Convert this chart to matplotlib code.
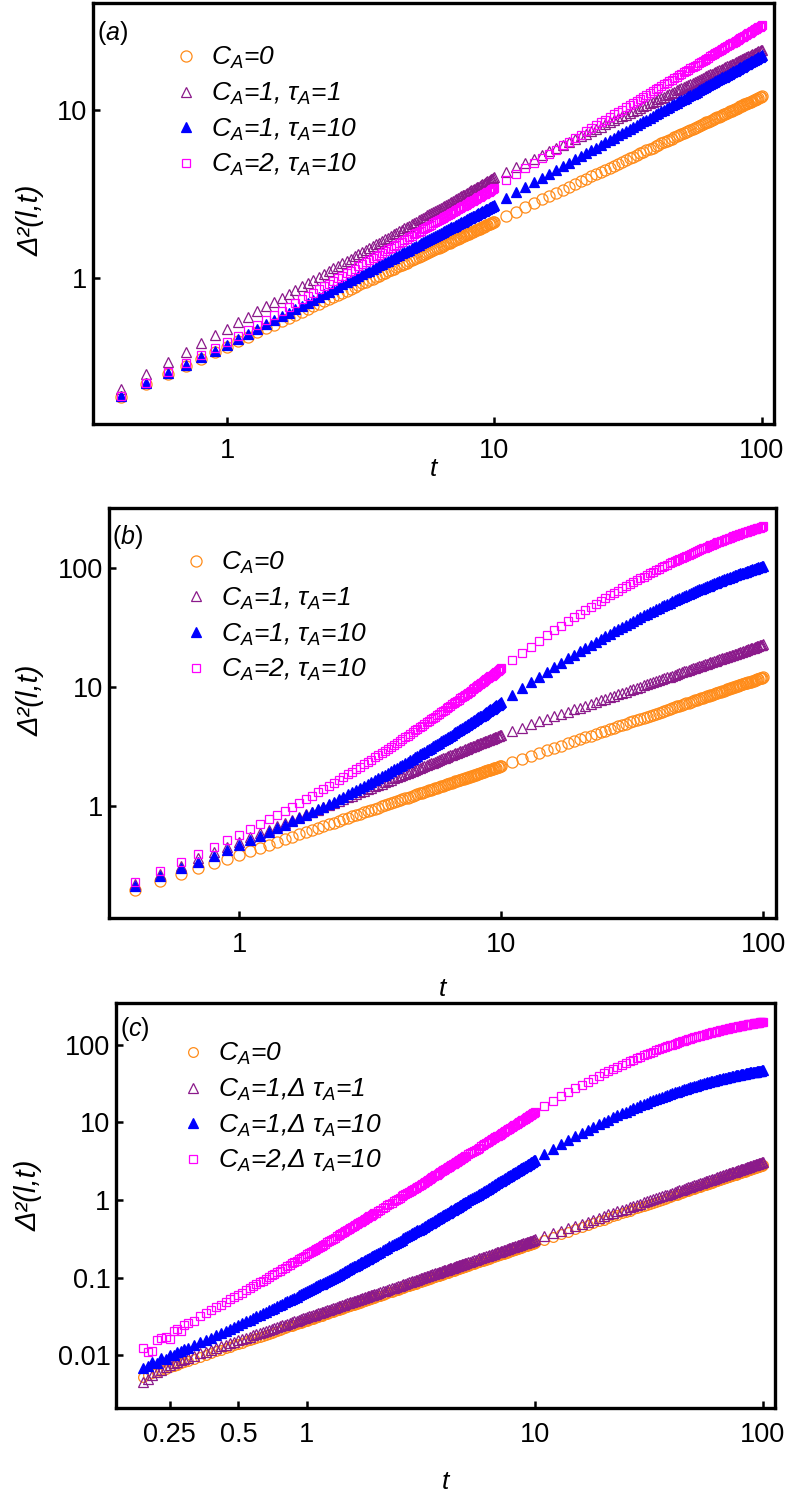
import matplotlib.pyplot as plt
from matplotlib.ticker import NullLocator

plt.rcParams['font.family'] = ['Liberation Sans', 'DejaVu Sans']
plt.rcParams['mathtext.fontset'] = 'custom'
plt.rcParams['mathtext.rm'] = 'Liberation Sans'
plt.rcParams['mathtext.it'] = 'Liberation Sans:italic'
plt.rcParams['mathtext.bf'] = 'Liberation Sans:bold'

# ---- time grid of panels (a) and (b) ----
t_fine = [0.4, 0.5, 0.6, 0.7, 0.8, 0.9, 1.0,
          1.1, 1.2, 1.3, 1.4, 1.5, 1.6, 1.7, 1.8, 1.9, 2.0,
          2.1, 2.2, 2.3, 2.4, 2.5, 2.6, 2.7, 2.8, 2.9, 3.0,
          3.1, 3.2, 3.3, 3.4, 3.5, 3.6, 3.7, 3.8, 3.9, 4.0,
          4.1, 4.2, 4.3, 4.4, 4.5, 4.6, 4.7, 4.8, 4.9, 5.0,
          5.1, 5.2, 5.3, 5.4, 5.5, 5.6, 5.7, 5.8, 5.9, 6.0,
          6.1, 6.2, 6.3, 6.4, 6.5, 6.6, 6.7, 6.8, 6.9, 7.0,
          7.1, 7.2, 7.3, 7.4, 7.5, 7.6, 7.7, 7.8, 7.9, 8.0,
          8.1, 8.2, 8.3, 8.4, 8.5, 8.6, 8.7, 8.8, 8.9, 9.0,
          9.1, 9.2, 9.3, 9.4, 9.5, 9.6, 9.7, 9.8, 9.9, 10.0]
t_coarse = [11, 12, 13, 14, 15, 16, 17, 18, 19, 20,
            21, 22, 23, 24, 25, 26, 27, 28, 29, 30,
            31, 32, 33, 34, 35, 36, 37, 38, 39, 40,
            41, 42, 43, 44, 45, 46, 47, 48, 49, 50,
            51, 52, 53, 54, 55, 56, 57, 58, 59, 60,
            61, 62, 63, 64, 65, 66, 67, 68, 69, 70,
            71, 72, 73, 74, 75, 76, 77, 78, 79, 80,
            81, 82, 83, 84, 85, 86, 87, 88, 89, 90,
            91, 92, 93, 94, 95, 96, 97, 98, 99, 100]

# C_A=0 (same in a and b)
ca0_fine = [0.197, 0.233, 0.267, 0.299, 0.330, 0.361, 0.390,
            0.419, 0.447, 0.474, 0.501, 0.528, 0.553, 0.579, 0.604, 0.629, 0.653,
            0.678, 0.702, 0.725, 0.749, 0.772, 0.795, 0.817, 0.840, 0.862, 0.884,
            0.906, 0.928, 0.949, 0.970, 0.992, 1.013, 1.034, 1.054, 1.075, 1.095,
            1.116, 1.136, 1.156, 1.176, 1.196, 1.216, 1.235, 1.254, 1.274, 1.294,
            1.313, 1.331, 1.351, 1.370, 1.388, 1.407, 1.426, 1.444, 1.463, 1.482,
            1.500, 1.518, 1.537, 1.555, 1.573, 1.591, 1.609, 1.626, 1.644, 1.662,
            1.680, 1.697, 1.715, 1.732, 1.750, 1.767, 1.784, 1.801, 1.818, 1.836,
            1.853, 1.870, 1.886, 1.903, 1.920, 1.937, 1.954, 1.971, 1.987, 2.004,
            2.021, 2.037, 2.054, 2.070, 2.086, 2.103, 2.119, 2.135, 2.151, 2.168]
ca0_coarse = [2.33, 2.48, 2.64, 2.79, 2.94, 3.07, 3.22, 3.36, 3.50, 3.63,
              3.77, 3.90, 4.03, 4.16, 4.29, 4.42, 4.54, 4.67, 4.79, 4.91,
              5.04, 5.16, 5.28, 5.39, 5.51, 5.63, 5.75, 5.86, 5.98, 6.09,
              6.20, 6.32, 6.43, 6.54, 6.65, 6.76, 6.87, 6.97, 7.08, 7.19,
              7.30, 7.40, 7.51, 7.62, 7.72, 7.82, 7.93, 8.03, 8.13, 8.24,
              8.34, 8.44, 8.54, 8.64, 8.74, 8.84, 8.94, 9.04, 9.14, 9.24,
              9.34, 9.43, 9.53, 9.63, 9.73, 9.82, 9.92, 10.0, 10.1, 10.2,
              10.3, 10.4, 10.5, 10.6, 10.7, 10.8, 10.9, 11.0, 11.0, 11.1,
              11.2, 11.3, 11.4, 11.5, 11.6, 11.7, 11.8, 11.9, 12.0, 12.05]

# C_A=1, tau_A=1 (same in a and b)
tau1_fine = [0.219, 0.268, 0.316, 0.363, 0.409, 0.455, 0.500,
             0.545, 0.589, 0.633, 0.677, 0.720, 0.763, 0.806, 0.849, 0.891, 0.933,
             0.975, 1.017, 1.058, 1.100, 1.141, 1.182, 1.223, 1.263, 1.304, 1.344,
             1.384, 1.424, 1.465, 1.504, 1.544, 1.584, 1.623, 1.663, 1.702, 1.741,
             1.780, 1.819, 1.859, 1.898, 1.936, 1.975, 2.013, 2.051, 2.090, 2.128,
             2.166, 2.204, 2.243, 2.281, 2.319, 2.357, 2.395, 2.433, 2.471, 2.508,
             2.546, 2.583, 2.620, 2.658, 2.695, 2.732, 2.770, 2.807, 2.843, 2.881,
             2.918, 2.955, 2.992, 3.029, 3.066, 3.102, 3.140, 3.176, 3.212, 3.250,
             3.286, 3.322, 3.359, 3.395, 3.431, 3.468, 3.504, 3.540, 3.576, 3.612,
             3.648, 3.684, 3.721, 3.756, 3.791, 3.828, 3.864, 3.899, 3.936, 3.972]
tau1_coarse = [4.27, 4.56, 4.85, 5.13, 5.40, 5.67, 5.94, 6.21, 6.47, 6.72,
               6.98, 7.23, 7.48, 7.72, 7.96, 8.21, 8.45, 8.68, 8.92, 9.15,
               9.38, 9.61, 9.84, 10.06, 10.29, 10.51, 10.73, 10.95, 11.17, 11.39,
               11.60, 11.81, 12.03, 12.24, 12.45, 12.66, 12.87, 13.08, 13.29, 13.49,
               13.70, 13.90, 14.10, 14.30, 14.51, 14.70, 14.90, 15.10, 15.30, 15.49,
               15.69, 15.88, 16.08, 16.27, 16.46, 16.66, 16.85, 17.04, 17.23, 17.42,
               17.61, 17.80, 17.98, 18.17, 18.36, 18.54, 18.73, 18.91, 19.10, 19.28,
               19.47, 19.65, 19.83, 20.01, 20.19, 20.37, 20.55, 20.73, 20.91, 21.09,
               21.26, 21.44, 21.62, 21.80, 21.97, 22.14, 22.32, 22.49, 22.67, 22.85]

# panel (a): C_A=1, tau_A=10 and C_A=2, tau_A=10
a_tau10_fine = [0.198, 0.236, 0.271, 0.305, 0.338, 0.369, 0.400,
                0.433, 0.466, 0.498, 0.529, 0.561, 0.592, 0.622, 0.653, 0.683, 0.712,
                0.742, 0.771, 0.800, 0.829, 0.858, 0.887, 0.915, 0.943, 0.971, 0.999,
                1.026, 1.054, 1.081, 1.108, 1.135, 1.163, 1.190, 1.216, 1.243, 1.269,
                1.296, 1.322, 1.348, 1.374, 1.400, 1.426, 1.452, 1.477, 1.503, 1.529,
                1.554, 1.579, 1.605, 1.630, 1.655, 1.680, 1.705, 1.729, 1.755, 1.779,
                1.804, 1.829, 1.853, 1.878, 1.902, 1.926, 1.950, 1.975, 1.999, 2.023,
                2.047, 2.071, 2.095, 2.118, 2.143, 2.166, 2.190, 2.214, 2.237, 2.261,
                2.285, 2.308, 2.331, 2.355, 2.378, 2.401, 2.424, 2.448, 2.471, 2.493,
                2.516, 2.540, 2.563, 2.585, 2.608, 2.632, 2.655, 2.677, 2.700, 2.723]
a_tau10_coarse = [3.00, 3.24, 3.48, 3.71, 3.95, 4.18, 4.41, 4.64, 4.87, 5.09,
                  5.32, 5.54, 5.76, 5.98, 6.20, 6.42, 6.64, 6.86, 7.07, 7.29,
                  7.51, 7.72, 7.93, 8.15, 8.36, 8.57, 8.78, 8.99, 9.20, 9.41,
                  9.61, 9.82, 10.03, 10.23, 10.44, 10.64, 10.85, 11.05, 11.25, 11.46,
                  11.66, 11.86, 12.06, 12.26, 12.47, 12.67, 12.87, 13.07, 13.27, 13.47,
                  13.66, 13.86, 14.06, 14.26, 14.45, 14.65, 14.85, 15.04, 15.24, 15.43,
                  15.63, 15.82, 16.02, 16.21, 16.41, 16.60, 16.80, 16.98, 17.18, 17.37,
                  17.56, 17.75, 17.95, 18.14, 18.32, 18.51, 18.71, 18.90, 19.09, 19.28,
                  19.47, 19.66, 19.85, 20.03, 20.22, 20.41, 20.60, 20.78, 20.97, 21.16]
a_ca2_fine = [0.199, 0.238, 0.276, 0.312, 0.347, 0.382, 0.415,
              0.453, 0.491, 0.528, 0.565, 0.602, 0.639, 0.675, 0.712, 0.748, 0.783,
              0.819, 0.855, 0.891, 0.926, 0.961, 0.997, 1.032, 1.067, 1.102, 1.136,
              1.171, 1.206, 1.240, 1.275, 1.309, 1.343, 1.377, 1.411, 1.445, 1.480,
              1.513, 1.547, 1.581, 1.615, 1.648, 1.682, 1.715, 1.748, 1.782, 1.816,
              1.849, 1.882, 1.915, 1.948, 1.981, 2.014, 2.047, 2.080, 2.113, 2.146,
              2.178, 2.211, 2.244, 2.277, 2.309, 2.342, 2.374, 2.407, 2.439, 2.472,
              2.504, 2.536, 2.568, 2.601, 2.633, 2.665, 2.697, 2.730, 2.761, 2.793,
              2.825, 2.858, 2.889, 2.921, 2.953, 2.985, 3.017, 3.049, 3.080, 3.112,
              3.143, 3.175, 3.207, 3.238, 3.270, 3.302, 3.333, 3.364, 3.396, 3.428]
a_ca2_coarse = [3.83, 4.16, 4.50, 4.83, 5.16, 5.49, 5.82, 6.15, 6.48, 6.81,
                7.14, 7.46, 7.79, 8.12, 8.44, 8.76, 9.09, 9.41, 9.73, 10.06,
                10.38, 10.70, 11.02, 11.34, 11.66, 11.98, 12.30, 12.62, 12.94, 13.26,
                13.58, 13.90, 14.22, 14.54, 14.85, 15.17, 15.49, 15.80, 16.12, 16.44,
                16.75, 17.07, 17.39, 17.70, 18.02, 18.33, 18.65, 18.96, 19.28, 19.59,
                19.90, 20.22, 20.53, 20.84, 21.15, 21.47, 21.78, 22.10, 22.40, 22.72,
                23.03, 23.34, 23.65, 23.96, 24.28, 24.59, 24.90, 25.21, 25.52, 25.83,
                26.15, 26.46, 26.77, 27.08, 27.38, 27.70, 28.01, 28.31, 28.62, 28.93,
                29.24, 29.55, 29.86, 30.17, 30.47, 30.79, 31.09, 31.40, 31.70, 32.01]

# panel (b): C_A=1, tau_A=10 and C_A=2, tau_A=10
b_tau10_fine = [0.212, 0.256, 0.299, 0.341, 0.383, 0.427, 0.470,
                0.514, 0.559, 0.603, 0.649, 0.695, 0.741, 0.789, 0.837, 0.886, 0.935,
                0.987, 1.038, 1.089, 1.143, 1.196, 1.250, 1.305, 1.361, 1.418, 1.475,
                1.533, 1.593, 1.651, 1.712, 1.774, 1.836, 1.900, 1.963, 2.028, 2.093,
                2.159, 2.226, 2.294, 2.363, 2.432, 2.502, 2.573, 2.644, 2.717, 2.792,
                2.865, 2.939, 3.016, 3.092, 3.169, 3.247, 3.326, 3.405, 3.486, 3.568,
                3.650, 3.733, 3.817, 3.902, 3.987, 4.072, 4.159, 4.246, 4.334, 4.424,
                4.514, 4.603, 4.696, 4.786, 4.881, 4.974, 5.069, 5.164, 5.260, 5.358,
                5.455, 5.553, 5.652, 5.752, 5.852, 5.954, 6.056, 6.160, 6.262, 6.366,
                6.472, 6.579, 6.686, 6.792, 6.900, 7.011, 7.121, 7.229, 7.340, 7.454]
b_tau10_coarse = [8.59, 9.76, 10.97, 12.21, 13.48, 14.74, 16.04, 17.36, 18.68, 20.01,
                  21.35, 22.68, 24.02, 25.37, 26.71, 28.06, 29.40, 30.74, 32.06, 33.38,
                  34.71, 36.02, 37.33, 38.62, 39.91, 41.20, 42.49, 43.75, 45.01, 46.26,
                  47.48, 48.72, 49.94, 51.15, 52.35, 53.54, 54.72, 55.88, 57.05, 58.21,
                  59.35, 60.46, 61.58, 62.69, 63.80, 64.91, 65.96, 67.01, 68.07, 69.18,
                  70.18, 71.22, 72.22, 73.27, 74.22, 75.22, 76.23, 77.16, 78.11, 79.11,
                  80.06, 80.94, 81.89, 82.84, 83.78, 84.66, 85.56, 86.43, 87.27, 88.16,
                  89.05, 89.90, 90.73, 91.58, 92.41, 93.26, 94.04, 94.88, 95.57, 96.36,
                  97.14, 97.93, 98.72, 99.45, 100.2, 101.0, 101.8, 102.5, 103.2, 103.9]
b_ca2_fine = [0.232, 0.285, 0.340, 0.395, 0.453, 0.513, 0.574,
              0.638, 0.704, 0.771, 0.841, 0.913, 0.986, 1.062, 1.140, 1.221, 1.303,
              1.388, 1.475, 1.563, 1.654, 1.747, 1.842, 1.939, 2.039, 2.140, 2.243,
              2.349, 2.457, 2.565, 2.678, 2.792, 2.906, 3.025, 3.144, 3.266, 3.390,
              3.515, 3.642, 3.773, 3.907, 4.039, 4.175, 4.312, 4.450, 4.593, 4.739,
              4.883, 5.029, 5.180, 5.332, 5.484, 5.639, 5.796, 5.954, 6.116, 6.281,
              6.444, 6.613, 6.781, 6.954, 7.124, 7.297, 7.475, 7.652, 7.830, 8.014,
              8.199, 8.382, 8.571, 8.757, 8.952, 9.144, 9.339, 9.536, 9.734, 9.936,
              10.14, 10.34, 10.55, 10.76, 10.96, 11.18, 11.39, 11.61, 11.82, 12.04,
              12.26, 12.48, 12.71, 12.93, 13.16, 13.39, 13.62, 13.85, 14.09, 14.33]
b_ca2_coarse = [16.72, 19.22, 21.79, 24.45, 27.17, 29.92, 32.72, 35.56, 38.42, 41.29,
                44.19, 47.08, 50.01, 52.94, 55.85, 58.79, 61.71, 64.64, 67.52, 70.40,
                73.29, 76.13, 78.99, 81.82, 84.63, 87.44, 90.24, 93.00, 95.75, 98.48,
                101.1, 103.8, 106.5, 109.1, 111.8, 114.4, 116.9, 119.5, 122.0, 124.5,
                127.0, 129.4, 131.9, 134.3, 136.7, 139.1, 141.4, 143.7, 146.0, 148.4,
                150.5, 152.8, 155.0, 157.3, 159.3, 161.5, 163.7, 165.7, 167.7, 169.9,
                172.0, 173.9, 175.9, 178.0, 180.0, 181.9, 183.9, 185.8, 187.6, 189.5,
                191.4, 193.2, 195.0, 196.8, 198.6, 200.5, 202.1, 203.9, 205.5, 207.2,
                208.9, 210.6, 212.2, 213.8, 215.5, 217.0, 218.7, 220.3, 221.8, 223.4]

# ---- panel (c) ----
tc_fine = [0.19, 0.20, 0.21, 0.22, 0.23, 0.24, 0.25, 0.26, 0.27, 0.28, 0.29, 0.30,
           0.32, 0.34, 0.36, 0.38, 0.40, 0.42, 0.44, 0.46, 0.48, 0.50, 0.52, 0.54,
           0.56, 0.58, 0.60,
           0.64, 0.68, 0.72, 0.76, 0.80, 0.84, 0.88, 0.92, 0.96, 1.00, 1.04, 1.08,
           1.12, 1.16, 1.20,
           1.25, 1.30, 1.35, 1.40, 1.45, 1.50, 1.55, 1.60, 1.65, 1.70, 1.75, 1.80,
           1.85, 1.90, 1.95, 2.00, 2.05, 2.10, 2.15, 2.20, 2.25, 2.30, 2.35, 2.40,
           2.45, 2.50, 2.55, 2.60, 2.65, 2.70, 2.75, 2.80, 2.85, 2.90, 2.95, 3.00,
           3.1, 3.2, 3.3, 3.4, 3.5, 3.6, 3.7, 3.8, 3.9, 4.0,
           4.1, 4.2, 4.3, 4.4, 4.5, 4.6, 4.7, 4.8, 4.9, 5.0,
           5.1, 5.2, 5.3, 5.4, 5.5, 5.6, 5.7, 5.8, 5.9, 6.0,
           6.1, 6.2, 6.3, 6.4, 6.5, 6.6, 6.7, 6.8, 6.9, 7.0,
           7.1, 7.2, 7.3, 7.4, 7.5, 7.6, 7.7, 7.8, 7.9, 8.0,
           8.1, 8.2, 8.3, 8.4, 8.5, 8.6, 8.7, 8.8, 8.9, 9.0,
           9.1, 9.2, 9.3, 9.4, 9.5, 9.6, 9.7, 9.8, 9.9, 10.0]
# extra samples between the ones above, where the data are denser
tc_extra = [0.62, 0.66, 0.70, 0.74, 0.78, 0.82, 0.86, 0.90, 0.94, 0.98,
            1.02, 1.06, 1.10, 1.14, 1.18,
            1.225, 1.275, 1.325, 1.375, 1.425, 1.475, 1.525, 1.575,
            1.625, 1.675, 1.725, 1.775, 1.825, 1.875, 1.925, 1.975,
            3.05, 3.15, 3.25, 3.35, 3.45, 3.55, 3.65, 3.75, 3.85, 3.95,
            4.05, 4.15, 4.25, 4.35, 4.45, 4.55, 4.65, 4.75, 4.85, 4.95]
tc_coarse = t_coarse

c_ca0_fine = [0.00532, 0.0056, 0.00588, 0.00616, 0.00644, 0.00672, 0.0070, 0.00728,
              0.00756, 0.00784, 0.00812, 0.0084,
              0.00896, 0.00952, 0.01008, 0.01064, 0.0112, 0.01176, 0.01232, 0.01288,
              0.01344, 0.0140, 0.01456, 0.01512, 0.01568, 0.01624, 0.0168,
              0.01792, 0.01904, 0.02016, 0.02128, 0.0224, 0.02352, 0.02464, 0.02576,
              0.02688, 0.028, 0.02912, 0.03024, 0.03136, 0.03248, 0.0336,
              0.035, 0.0364, 0.0378, 0.0392, 0.0406, 0.042, 0.0434, 0.0448, 0.0462,
              0.0476, 0.049, 0.0504, 0.0518, 0.0532, 0.0546, 0.056, 0.0574, 0.0588,
              0.0602, 0.0616, 0.063, 0.0644, 0.0658, 0.0672, 0.0686, 0.07, 0.0714,
              0.0728, 0.0742, 0.0756, 0.077, 0.0784, 0.0798, 0.0812, 0.0826, 0.084,
              0.0868, 0.0896, 0.0924, 0.0952, 0.098, 0.1008, 0.1036, 0.1064, 0.1092, 0.112,
              0.1148, 0.1176, 0.1204, 0.1232, 0.126, 0.1288, 0.1316, 0.1344, 0.1372, 0.14,
              0.1428, 0.1456, 0.1484, 0.1512, 0.154, 0.1568, 0.1596, 0.1624, 0.1652, 0.168,
              0.1708, 0.1736, 0.1764, 0.1792, 0.182, 0.1848, 0.1876, 0.1904, 0.1932, 0.196,
              0.1988, 0.2016, 0.2044, 0.2072, 0.21, 0.2128, 0.2156, 0.2184, 0.2212, 0.224,
              0.2268, 0.2296, 0.2324, 0.2352, 0.238, 0.2408, 0.2436, 0.2464, 0.2492, 0.252,
              0.2548, 0.2576, 0.2604, 0.2632, 0.266, 0.2688, 0.2716, 0.2744, 0.2772, 0.28]
c_ca0_extra = [0.01736, 0.01848, 0.0196, 0.02072, 0.02184, 0.02296, 0.02408, 0.0252,
               0.02632, 0.02744, 0.02856, 0.02968, 0.0308, 0.03192, 0.03304,
               0.0343, 0.0357, 0.0371, 0.0385, 0.0399, 0.0413, 0.0427, 0.0441,
               0.0455, 0.0469, 0.0483, 0.0497, 0.0511, 0.0525, 0.0539, 0.0553,
               0.0854, 0.0882, 0.091, 0.0938, 0.0966, 0.0994, 0.1022, 0.105, 0.1078, 0.1106,
               0.1134, 0.1162, 0.119, 0.1218, 0.1246, 0.1274, 0.1302, 0.133, 0.1358, 0.1386]
c_ca0_coarse = [0.308, 0.336, 0.364, 0.392, 0.42, 0.448, 0.476, 0.504, 0.532, 0.56,
                0.588, 0.616, 0.644, 0.672, 0.70, 0.728, 0.756, 0.784, 0.812, 0.84,
                0.868, 0.896, 0.924, 0.952, 0.98, 1.008, 1.036, 1.064, 1.092, 1.12,
                1.148, 1.176, 1.204, 1.232, 1.26, 1.288, 1.316, 1.344, 1.372, 1.40,
                1.428, 1.456, 1.484, 1.512, 1.54, 1.568, 1.596, 1.624, 1.652, 1.68,
                1.708, 1.736, 1.764, 1.792, 1.82, 1.848, 1.876, 1.904, 1.932, 1.96,
                1.988, 2.016, 2.044, 2.072, 2.10, 2.128, 2.156, 2.184, 2.212, 2.24,
                2.268, 2.296, 2.324, 2.352, 2.38, 2.408, 2.436, 2.464, 2.492, 2.52,
                2.548, 2.576, 2.604, 2.632, 2.66, 2.688, 2.716, 2.744, 2.772, 2.80]

c_dtau1_fine = [0.0045, 0.0050, 0.0056, 0.0060, 0.0065, 0.0070, 0.0074, 0.0079,
                0.0083, 0.0086, 0.0090, 0.0093,
                0.00992, 0.01054, 0.01116, 0.01178, 0.0124, 0.01302, 0.01364, 0.01426,
                0.01488, 0.0155, 0.01612, 0.01674, 0.01736, 0.01798, 0.0186,
                0.01984, 0.02108, 0.02232, 0.02356, 0.0248, 0.02604, 0.02728, 0.02852,
                0.02976, 0.031, 0.03224, 0.03348, 0.03472, 0.03596, 0.0372,
                0.03875, 0.0403, 0.04185, 0.0434, 0.04495, 0.0465, 0.04805, 0.0496,
                0.05115, 0.0527, 0.05425, 0.0558, 0.05735, 0.0589, 0.06045, 0.062,
                0.06355, 0.0651, 0.06665, 0.0682, 0.06975, 0.0713, 0.07285, 0.0744,
                0.07595, 0.0775, 0.07905, 0.0806, 0.08215, 0.0837, 0.08525, 0.0868,
                0.08835, 0.0899, 0.09145, 0.093,
                0.0961, 0.0992, 0.1023, 0.1054, 0.1085, 0.1116, 0.1147, 0.1178, 0.1209, 0.124,
                0.1271, 0.1302, 0.1333, 0.1364, 0.1395, 0.1426, 0.1457, 0.1488, 0.1519, 0.155,
                0.1581, 0.1612, 0.1643, 0.1674, 0.1705, 0.1736, 0.1767, 0.1798, 0.1829, 0.186,
                0.1891, 0.1922, 0.1953, 0.1984, 0.2015, 0.2046, 0.2077, 0.2108, 0.2139, 0.217,
                0.2201, 0.2232, 0.2263, 0.2294, 0.2325, 0.2356, 0.2387, 0.2418, 0.2449, 0.248,
                0.2511, 0.2542, 0.2573, 0.2604, 0.2635, 0.2666, 0.2697, 0.2728, 0.2759, 0.279,
                0.2821, 0.2852, 0.2883, 0.2914, 0.2945, 0.2976, 0.3007, 0.3038, 0.3069, 0.31]
c_dtau1_extra = [0.01922, 0.02046, 0.0217, 0.02294, 0.02418, 0.02542, 0.02666, 0.0279,
                 0.02914, 0.03038, 0.03162, 0.03286, 0.0341, 0.03534, 0.03658,
                 0.03798, 0.03953, 0.04108, 0.04263, 0.04418, 0.04573, 0.04728, 0.04883,
                 0.05038, 0.05193, 0.05348, 0.05503, 0.05658, 0.05813, 0.05968, 0.06123,
                 0.09455, 0.09765, 0.10075, 0.10385, 0.10695, 0.11005, 0.11315, 0.11625,
                 0.11935, 0.12245, 0.12555, 0.12865, 0.13175, 0.13485, 0.13795, 0.14105,
                 0.14415, 0.14725, 0.15035, 0.15345]
c_dtau1_coarse = [0.341, 0.372, 0.403, 0.434, 0.465, 0.496, 0.527, 0.558, 0.589, 0.62,
                  0.651, 0.682, 0.713, 0.744, 0.775, 0.806, 0.837, 0.868, 0.899, 0.93,
                  0.961, 0.992, 1.023, 1.054, 1.085, 1.116, 1.147, 1.178, 1.209, 1.24,
                  1.271, 1.302, 1.333, 1.364, 1.395, 1.426, 1.457, 1.488, 1.519, 1.55,
                  1.581, 1.612, 1.643, 1.674, 1.705, 1.736, 1.767, 1.798, 1.829, 1.86,
                  1.891, 1.922, 1.953, 1.984, 2.015, 2.046, 2.077, 2.108, 2.139, 2.17,
                  2.201, 2.232, 2.263, 2.294, 2.325, 2.356, 2.387, 2.418, 2.449, 2.48,
                  2.511, 2.542, 2.573, 2.604, 2.635, 2.666, 2.697, 2.728, 2.759, 2.79,
                  2.821, 2.852, 2.883, 2.914, 2.945, 2.976, 3.007, 3.038, 3.069, 3.1]

c_dtau10_fine = [0.0068, 0.0072, 0.0083, 0.0080, 0.0092, 0.0090, 0.0101, 0.0100,
                 0.0110, 0.0112, 0.0120, 0.0124,
                 0.0135, 0.0146, 0.0157, 0.0169, 0.0181, 0.0193, 0.0206, 0.0219,
                 0.0232, 0.0245, 0.0259, 0.0273, 0.0287, 0.0301, 0.0316,
                 0.0347, 0.0378, 0.0411, 0.0444, 0.0479, 0.0515, 0.0552, 0.0590,
                 0.0629, 0.0669, 0.0710, 0.0753, 0.0796, 0.0840, 0.0885,
                 0.0943, 0.1003, 0.1064, 0.1126, 0.1191, 0.1257, 0.1324, 0.1394,
                 0.1464, 0.1536, 0.1610, 0.1686, 0.1762, 0.1841, 0.1920, 0.2002,
                 0.2085, 0.2169, 0.2255, 0.2342, 0.2432, 0.2521, 0.2614, 0.2707,
                 0.2802, 0.2898, 0.2996, 0.3096, 0.3195, 0.3298, 0.3401, 0.3507,
                 0.3613, 0.3721, 0.3831, 0.3942,
                 0.4169, 0.4400, 0.4639, 0.4881, 0.5131, 0.5388, 0.5650, 0.5915, 0.6188, 0.6465,
                 0.6746, 0.7034, 0.7331, 0.7631, 0.7935, 0.8247, 0.8563, 0.8887, 0.9214, 0.9550,
                 0.9889, 1.0232, 1.0583, 1.0938, 1.1296, 1.1663, 1.2037, 1.2407, 1.2793, 1.3183,
                 1.3573, 1.3970, 1.4371, 1.4785, 1.5198, 1.5615, 1.6043, 1.6472, 1.6905, 1.7349,
                 1.7797, 1.8245, 1.8701, 1.9165, 1.9632, 2.0104, 2.0583, 2.1066, 2.1553, 2.2048,
                 2.2547, 2.3045, 2.3560, 2.4074, 2.4592, 2.5118, 2.5648, 2.6185, 2.6727, 2.7260,
                 2.7810, 2.8371, 2.8932, 2.9492, 3.0065, 3.0642, 3.1230, 3.1806, 3.2398, 3.2994]
c_dtau10_extra = [0.0331, 0.0362, 0.0394, 0.0427, 0.0462, 0.0497, 0.0533, 0.0571,
                  0.0609, 0.0649, 0.0689, 0.0731, 0.0774, 0.0818, 0.0862,
                  0.0914, 0.0972, 0.1033, 0.1095, 0.1159, 0.1224, 0.1291, 0.1359,
                  0.1429, 0.1500, 0.1573, 0.1648, 0.1724, 0.1801, 0.1880, 0.1961,
                  0.4054, 0.4283, 0.4520, 0.4760, 0.5004, 0.5257, 0.5515, 0.5780, 0.6049, 0.6326,
                  0.6607, 0.6888, 0.7184, 0.7481, 0.7785, 0.8089, 0.8405, 0.8725, 0.9049, 0.9380]
c_dtau10_coarse = [3.91, 4.55, 5.21, 5.90, 6.59, 7.29, 8.01, 8.73, 9.45, 10.18,
                   10.90, 11.63, 12.36, 13.08, 13.80, 14.51, 15.22, 15.92, 16.62, 17.31,
                   18.00, 18.67, 19.33, 19.99, 20.64, 21.28, 21.92, 22.54, 23.16, 23.77,
                   24.36, 24.96, 25.54, 26.12, 26.67, 27.23, 27.78, 28.32, 28.85, 29.38,
                   29.89, 30.40, 30.90, 31.38, 31.86, 32.33, 32.80, 33.25, 33.71, 34.16,
                   34.59, 35.02, 35.45, 35.86, 36.27, 36.67, 37.07, 37.46, 37.83, 38.21,
                   38.59, 38.94, 39.30, 39.64, 39.99, 40.33, 40.66, 40.99, 41.32, 41.63,
                   41.95, 42.25, 42.55, 42.84, 43.13, 43.42, 43.70, 43.98, 44.25, 44.51,
                   44.77, 45.04, 45.28, 45.53, 45.78, 46.03, 46.26, 46.49, 46.72, 46.94]

c_ca2_fine = [0.0125, 0.0109, 0.0112, 0.0158, 0.0166, 0.0172, 0.0160, 0.0205,
              0.0216, 0.0208, 0.0242, 0.0262,
              0.0280, 0.0322, 0.0349, 0.0381, 0.0415, 0.0449, 0.0486, 0.0523,
              0.0561, 0.0601, 0.0642, 0.0685, 0.0728, 0.0773, 0.0819,
              0.0915, 0.1016, 0.1121, 0.1231, 0.1346, 0.1465, 0.1589, 0.1719,
              0.1852, 0.199, 0.2133, 0.2281, 0.2432, 0.2589, 0.2751,
              0.2956, 0.3172, 0.3393, 0.3620, 0.3857, 0.4098, 0.4348, 0.4605,
              0.4869, 0.5137, 0.5413, 0.5699, 0.5988, 0.6286, 0.6587, 0.6899,
              0.7217, 0.7537, 0.7866, 0.8203, 0.8549, 0.8896, 0.9256, 0.9617,
              0.9988, 1.036, 1.074, 1.114, 1.153, 1.193, 1.234, 1.275,
              1.317, 1.360, 1.403, 1.448,
              1.538, 1.630, 1.725, 1.822, 1.923, 2.026, 2.132, 2.239, 2.349, 2.462,
              2.576, 2.693, 2.814, 2.936, 3.060, 3.188, 3.317, 3.450, 3.585, 3.723,
              3.862, 4.003, 4.148, 4.295, 4.443, 4.594, 4.749, 4.903, 5.063, 5.225,
              5.386, 5.552, 5.719, 5.891, 6.063, 6.237, 6.415, 6.594, 6.775, 6.961,
              7.148, 7.336, 7.527, 7.721, 7.917, 8.115, 8.316, 8.519, 8.723, 8.931,
              9.141, 9.351, 9.567, 9.784, 10.00, 10.22, 10.45, 10.67, 10.90, 11.13,
              11.36, 11.60, 11.83, 12.07, 12.31, 12.56, 12.81, 13.05, 13.30, 13.55]
c_ca2_extra = [0.0867, 0.0965, 0.1068, 0.1175, 0.1288, 0.1405, 0.1526, 0.1653,
               0.1784, 0.1920, 0.2061, 0.2205, 0.2355, 0.2510, 0.2668,
               0.2852, 0.3062, 0.3281, 0.3506, 0.3739, 0.3977, 0.4223, 0.4477,
               0.4737, 0.5002, 0.5276, 0.5555, 0.5843, 0.6136, 0.6435, 0.6743,
               1.492, 1.583, 1.678, 1.774, 1.872, 1.974, 2.077, 2.184, 2.293, 2.405,
               2.519, 2.633, 2.754, 2.875, 2.999, 3.123, 3.253, 3.384, 3.517, 3.653]
c_ca2_coarse = [16.16, 18.87, 21.69, 24.59, 27.56, 30.54, 33.58, 36.67, 39.74, 42.85,
                45.94, 49.04, 52.15, 55.22, 58.28, 61.33, 64.35, 67.34, 70.29, 73.22,
                76.16, 79.01, 81.84, 84.64, 87.40, 90.12, 92.81, 95.47, 98.10, 100.7,
                103.2, 105.7, 108.2, 110.6, 113.0, 115.3, 117.6, 119.9, 122.2, 124.4,
                126.6, 128.7, 130.8, 132.8, 134.8, 136.8, 138.8, 140.7, 142.6, 144.5,
                146.3, 148.1, 149.8, 151.6, 153.3, 154.9, 156.6, 158.2, 159.7, 161.3,
                162.9, 164.3, 165.8, 167.2, 168.7, 170.1, 171.4, 172.8, 174.1, 175.4,
                176.7, 177.9, 179.1, 180.3, 181.5, 182.7, 183.8, 185.0, 186.1, 187.1,
                188.2, 189.2, 190.2, 191.2, 192.2, 193.2, 194.1, 195.0, 196.0, 196.8]

labels_ab = [r'$C_A$=0', r'$C_A$=1, $\tau_A$=1',
             r'$C_A$=1, $\tau_A$=10', r'$C_A$=2, $\tau_A$=10']
labels_c = [r'$C_A$=0', r'$C_A$=1,Δ $\tau_A$=1',
            r'$C_A$=1,Δ $\tau_A$=10', r'$C_A$=2,Δ $\tau_A$=10']

orange = '#FF8C1A'
purple = '#8B1A8B'
blue = '#0000FF'
magenta = '#FF00FF'

fig = plt.figure(figsize=(7.85, 14.93), dpi=100)
W, H = 785, 1493


def add_axes(left, right, top, bottom):
    return fig.add_axes([left / W, 1 - bottom / H, (right - left) / W, (bottom - top) / H])


def draw(ax, tx, series, labels, sizes):
    styles = [dict(marker='o', mfc='none', mec=orange),
              dict(marker='^', mfc='none', mec=purple),
              dict(marker='^', mfc=blue, mec=blue),
              dict(marker='s', mfc='none', mec=magenta)]
    for ys, st, ms, lab in zip(series, styles, sizes, labels):
        ax.plot(tx, ys, linestyle='none', ms=ms, mew=0.9, label=lab, **st)


def style_axes(ax, xlim, ylim, xticks, xlabels, yticks, ylabels):
    ax.set_xscale('log')
    ax.set_yscale('log')
    ax.set_xlim(*xlim)
    ax.set_ylim(*ylim)
    ax.set_xticks(xticks, xlabels)
    ax.set_yticks(yticks, ylabels)
    ax.xaxis.set_minor_locator(NullLocator())
    ax.yaxis.set_minor_locator(NullLocator())
    ax.tick_params(direction='in', length=5, width=1.8, labelsize=19.5,
                   top=False, right=False)
    ax.tick_params(axis='x', pad=10)
    ax.tick_params(axis='y', pad=4)
    for sp in ax.spines.values():
        sp.set_linewidth(2.4)


def add_legend(ax, x, y):
    ax.legend(loc='upper left', bbox_to_anchor=(x, y), frameon=False,
              prop={'style': 'italic', 'size': 19}, handlelength=1.0,
              handletextpad=0.45, borderpad=0, borderaxespad=0, labelspacing=0.36)


def add_ylabel(ax, x, y):
    ax.set_ylabel('Δ²(l,t)', style='italic', fontsize=21)
    ax.yaxis.set_label_coords(x, y)


# ---- panel (a) ----
ax_a = add_axes(93, 774, 3, 424)
ta = t_fine + t_coarse
draw(ax_a, ta, [ca0_fine + ca0_coarse, tau1_fine + tau1_coarse,
                a_tau10_fine + a_tau10_coarse, a_ca2_fine + a_ca2_coarse],
     labels_ab, [8, 7.5, 7.5, 6.2])
style_axes(ax_a, (0.3155, 110.9), (0.1352, 43.35), [1, 10, 100], ['1', '10', '100'],
           [1, 10], ['1', '10'])
add_legend(ax_a, 0.1167, 0.900)
ax_a.text(0.006, 0.962, r'($\mathit{a}$)', transform=ax_a.transAxes, fontsize=18,
          va='top', ha='left')
ax_a.set_xlabel('t', style='italic', fontsize=19)
ax_a.xaxis.set_label_coords(0.5, -0.078)
add_ylabel(ax_a, -0.0705, 0.485)

# ---- panel (b) ----
ax_b = add_axes(109, 776, 508, 918)
draw(ax_b, ta, [ca0_fine + ca0_coarse, tau1_fine + tau1_coarse,
                b_tau10_fine + b_tau10_coarse, b_ca2_fine + b_ca2_coarse],
     labels_ab, [8, 7.5, 7.5, 6.2])
style_axes(ax_b, (0.319, 112.1), (0.1145, 319), [1, 10, 100], ['1', '10', '100'],
           [1, 10, 100], ['1', '10', '100'])
add_legend(ax_b, 0.110, 0.8976)
ax_b.text(0.0045, 0.963, r'($\mathit{b}$)', transform=ax_b.transAxes, fontsize=18,
          va='top', ha='left')
ax_b.set_xlabel('t', style='italic', fontsize=19)
ax_b.xaxis.set_label_coords(0.5, -0.144)
add_ylabel(ax_b, -0.096, 0.532)

# ---- panel (c) ----
ax_c = add_axes(116, 775, 1003, 1408)
tcx = tc_fine + tc_extra + tc_coarse
draw(ax_c, tcx, [c_ca0_fine + c_ca0_extra + c_ca0_coarse,
                 c_dtau1_fine + c_dtau1_extra + c_dtau1_coarse,
                 c_dtau10_fine + c_dtau10_extra + c_dtau10_coarse,
                 c_ca2_fine + c_ca2_extra + c_ca2_coarse],
     labels_c, [7, 6.5, 6.5, 5.6])
style_axes(ax_c, (0.1453, 112.9), (0.00209, 345.7), [0.25, 0.5, 1, 10, 100],
           ['0.25', '0.5', '1', '10', '100'], [0.01, 0.1, 1, 10, 100],
           ['0.01', '0.1', '1', '10', '100'])
add_legend(ax_c, 0.0964, 0.906)
ax_c.text(0.006, 0.970, r'($\mathit{c}$)', transform=ax_c.transAxes, fontsize=18,
          va='top', ha='left')
ax_c.set_xlabel('t', style='italic', fontsize=19)
ax_c.xaxis.set_label_coords(0.5, -0.153)
add_ylabel(ax_c, -0.111, 0.526)

fig.savefig('out.png', dpi=100)
